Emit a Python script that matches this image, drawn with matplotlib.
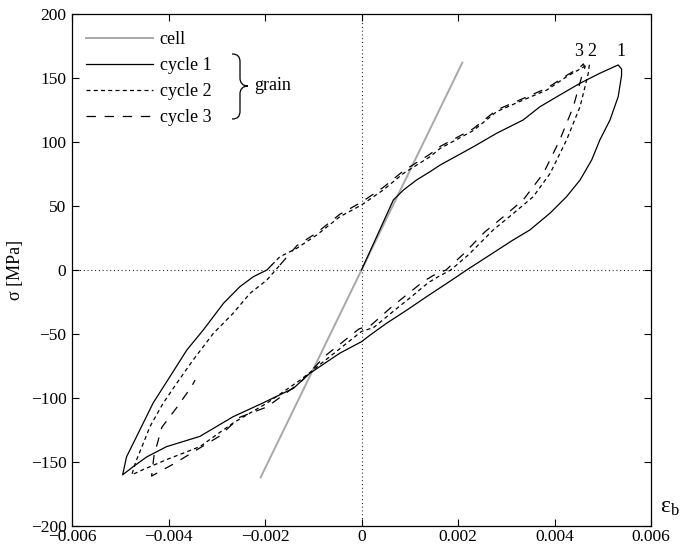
import numpy as np
import matplotlib
matplotlib.use('Agg')
import matplotlib.pyplot as plt
import matplotlib.ticker as ticker
from matplotlib.path import Path
from matplotlib.patches import PathPatch

plt.rcParams['font.family'] = ['Liberation Serif', 'DejaVu Serif']
plt.rcParams['mathtext.fontset'] = 'custom'
plt.rcParams['mathtext.rm'] = 'Liberation Serif'
plt.rcParams['mathtext.it'] = 'Liberation Serif:italic'

# cell (elastic line)
cell_eps = [-0.00209, 0.00209]
cell_sig = [-162, 162]

# grain, cycle 1
c1_eps = [0, 0.00066, 0.00087, 0.00114, 0.00142, 0.00163, 0.00232, 0.0028, 0.00335, 0.0037,
          0.00411, 0.00453, 0.00494, 0.00532, 0.00539, 0.00539, 0.00532, 0.00515, 0.00494,
          0.00477, 0.00453, 0.00425, 0.00391, 0.00349, 0.00314, 0.0025, 0.00218, 0.00177,
          0.00135, 0.00094, 0.00052, 0.00018, 0, -0.00045, -0.00107, -0.00141, -0.00205,
          -0.00266, -0.00335, -0.00404, -0.00445, -0.00473, -0.00495, -0.00487, -0.00466,
          -0.00432, -0.00397, -0.00362, -0.00328, -0.00286, -0.00252, -0.00224, -0.00196, -0.00186]
c1_sig = [0, 54.7, 62.5, 70.3, 76.8, 82, 96.3, 106.8, 117.2, 127.6,
          136.7, 145.9, 153.7, 160.2, 157, 152, 135.4, 117.2, 101.6,
          85.9, 70.3, 57.3, 44.5, 31.3, 23.4, 7.8, 0, -10.4,
          -20.8, -31.3, -41.6, -50.8, -56, -65, -80.7, -92.4, -104,
          -114.6, -130, -138, -146, -153.6, -160, -146, -130,
          -104, -83.3, -62.5, -46.9, -26, -13, -5.2, 0, 3.9]

# grain, cycle 2
c2_eps = [-0.00186, -0.00169, -0.00134, -0.00093, -0.00045, 0, 0.00045, 0.00087, 0.00142,
          0.00163, 0.00232, 0.0028, 0.00335, 0.00384, 0.00425, 0.00462, 0.00472, 0.0047,
          0.00453, 0.00425, 0.00391, 0.00356, 0.00315, 0.00273, 0.00222, 0.00185, 0.0016,
          0.00138, 0.00103, 0.0007, 0.00025, 0, -0.0003, -0.0007, -0.00127, -0.00196,
          -0.00266, -0.00335, -0.00403, -0.00453, -0.00476, -0.00468, -0.00455, -0.00438,
          -0.00411, -0.00383, -0.00349, -0.00307, -0.00266, -0.00231, -0.00196, -0.00169]
c2_sig = [3.9, 10.4, 17, 27.3, 41.6, 50.8, 62.5, 75.5, 88.5,
          95, 109, 123.7, 132.8, 140.6, 151, 159, 160, 153.6,
          127.6, 101.6, 75.5, 57.3, 44.3, 31.3, 12, 0, -5,
          -10, -21, -31, -45, -48, -57, -69, -86, -104,
          -119.5, -138, -148, -156, -160, -150, -138, -122,
          -104, -88.5, -70.3, -49.5, -33.8, -18.2, -7.8, 3.9]

# grain, cycle 3
c3_eps = [-0.00169, -0.00134, -0.00093, -0.00045, 0, 0.00045, 0.00087, 0.00142, 0.00163,
          0.00232, 0.0028, 0.00335, 0.00384, 0.00425, 0.00452, 0.0046, 0.00463, 0.0046,
          0.00439, 0.00411, 0.00377, 0.00335, 0.00294, 0.00256, 0.0021, 0.00175, 0.0015,
          0.00128, 0.00095, 0.00062, 0.0002, -0.00005, -0.00035, -0.00075, -0.00127,
          -0.00196, -0.00252, -0.00295, -0.00342, -0.00387, -0.00435, -0.0043, -0.00414,
          -0.00384, -0.00352, -0.00345]
c3_sig = [3.9, 19, 29, 43.5, 53, 64.5, 77.5, 90.5, 96.5,
          110.5, 125, 134, 142, 152, 158, 161, 158, 156,
          127.6, 101.6, 75.5, 54.7, 41.6, 29.9, 12, 0, -4,
          -9, -19, -29, -43, -46, -55, -67, -88,
          -107, -115, -130, -140.6, -151, -161, -145, -123,
          -108, -91, -86]

peak_labels = ['3', '2', '1']
peak_label_eps = [0.00449, 0.00478, 0.00538]
peak_label_sig = [171, 171, 171]

fig = plt.figure(figsize=(6.86, 5.48), dpi=100)
ax = fig.add_axes([72/686, 22/548, 579/686, 512/548])

ax.axhline(0, color='k', lw=0.8, dashes=(0.8, 2.6))
ax.axvline(0, color='k', lw=0.8, dashes=(0.8, 2.6))

ax.plot(cell_eps, cell_sig, color='#a8a8a8', lw=1.4, label='cell')
ax.plot(c1_eps, c1_sig, color='k', lw=0.9, label='cycle 1')
ax.plot(c2_eps, c2_sig, color='k', lw=0.9, dashes=(3.2, 2.6), label='cycle 2')
ax.plot(c3_eps, c3_sig, color='k', lw=0.9, dashes=(7.5, 7), label='cycle 3')

for t, x, y in zip(peak_labels, peak_label_eps, peak_label_sig):
    ax.text(x, y, t, fontsize=13, ha='center', va='center')

ax.set_xlim(-0.006, 0.006)
ax.set_ylim(-200, 200)
ax.xaxis.set_major_locator(ticker.MultipleLocator(0.002))
ax.yaxis.set_major_locator(ticker.MultipleLocator(50))
ax.xaxis.set_major_formatter(ticker.FuncFormatter(
    lambda v, p: '0' if abs(v) < 1e-9 else f'{v:.3f}'.replace('-', '\u2212')))
ax.yaxis.set_major_formatter(ticker.FuncFormatter(
    lambda v, p: f'{v:.0f}'.replace('-', '\u2212')))
ax.tick_params(direction='in', length=5, width=0.8, top=True, right=True,
               labelsize=12.5, pad=4)
ax.tick_params(axis='x', pad=2.5)
for s in ax.spines.values():
    s.set_linewidth(0.9)

ax.text(1.033, 0.037, r'$\mathrm{\varepsilon}_\mathrm{b}$', transform=ax.transAxes,
        fontsize=17, ha='center', va='center')
ax.text(-0.098, 0.5, '\u03c3 [MPa]', transform=ax.transAxes, rotation=90,
        fontsize=13, ha='center', va='center')

ax.legend(loc='upper left', bbox_to_anchor=(0.0, 0.995), frameon=False, fontsize=13,
          handlelength=3.7, handletextpad=0.35, labelspacing=0.5, borderpad=0.3)

# brace for "grain"
def px(x, y):
    return (x/686, 1 - y/548)

verts = [px(232, 54), px(238, 54), px(240, 57), px(240, 62),
         px(240, 78),
         px(240, 83), px(243, 86), px(248, 86),
         px(243, 86), px(240, 89), px(240, 94),
         px(240, 111),
         px(240, 116), px(238, 119), px(232, 119)]
codes = [Path.MOVETO, Path.CURVE4, Path.CURVE4, Path.CURVE4,
         Path.LINETO,
         Path.CURVE4, Path.CURVE4, Path.CURVE4,
         Path.CURVE4, Path.CURVE4, Path.CURVE4,
         Path.LINETO,
         Path.CURVE4, Path.CURVE4, Path.CURVE4]
fig.patches.append(PathPatch(Path(verts, codes), transform=fig.transFigure,
                             fill=False, lw=0.9, color='k'))
fig.text(254/686, 1 - 85/548, 'grain', fontsize=13, ha='left', va='center')

plt.savefig('out.png', dpi=100)
